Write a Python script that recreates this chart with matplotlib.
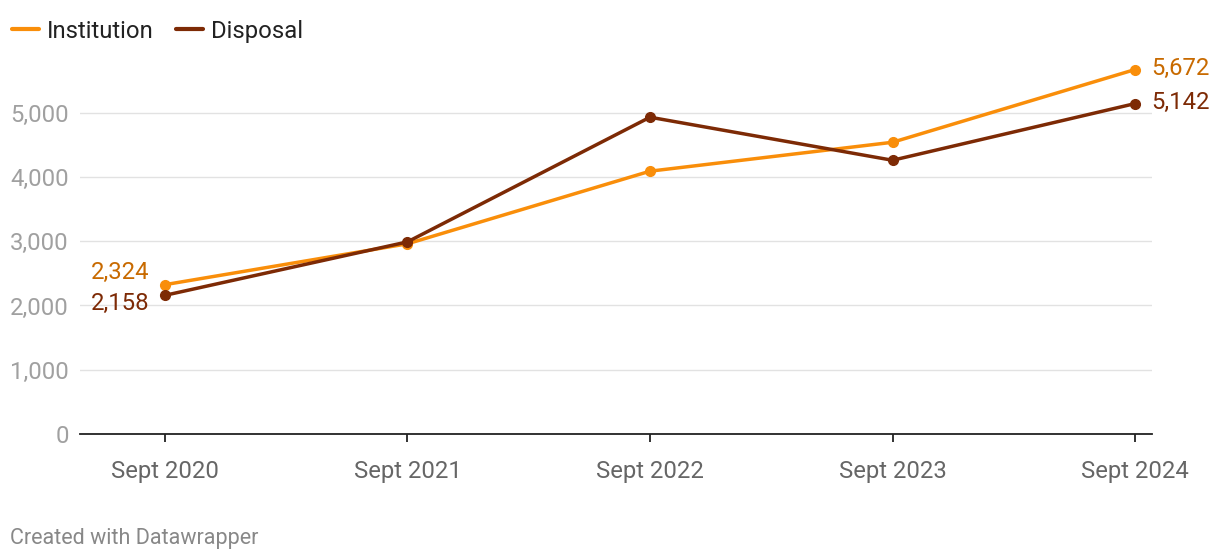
import matplotlib.pyplot as plt
from matplotlib.lines import Line2D

plt.rcParams['font.family'] = ['Roboto', 'DejaVu Sans']

# data
periods = ['Sept 2020', 'Sept 2021', 'Sept 2022', 'Sept 2023', 'Sept 2024']
institution = [2324, 2960, 4090, 4540, 5672]
disposal = [2158, 2990, 4930, 4260, 5142]

c_inst = '#f98e0a'
c_inst_txt = '#c86a00'
c_disp = '#7d2a05'
fs = 17.2

fig = plt.figure(figsize=(12.2, 5.6), dpi=100)
ax = fig.add_axes([0.0656, 0.225, 0.8787, 0.677])

x = list(range(len(periods)))
ax.plot(x, institution, color=c_inst, lw=2.5, marker='o', ms=7, zorder=3)
ax.plot(x, disposal, color=c_disp, lw=2.5, marker='o', ms=7, zorder=4)

ax.set_xlim(-0.35, 4.07)
ax.set_ylim(0, 5900)
ax.set_yticks([0, 1000, 2000, 3000, 4000, 5000])
ax.set_yticklabels(['0', '1,000', '2,000', '3,000', '4,000', '5,000'])
ax.set_xticks(x)
ax.set_xticklabels(periods)

ax.grid(axis='y', color='#e2e2e2', lw=1)
ax.set_axisbelow(True)
for s in ['top', 'right', 'left']:
    ax.spines[s].set_visible(False)
ax.spines['bottom'].set_color('#222222')
ax.spines['bottom'].set_linewidth(1.3)

ax.tick_params(axis='y', length=0, pad=8, labelsize=fs, labelcolor='#a0a0a0')
ax.tick_params(axis='x', length=6, width=1.3, color='#222222', pad=13,
               labelsize=fs, labelcolor='#666666')

# end labels
fmt = lambda v: f'{v:,}'
ax.annotate(fmt(institution[0]), (x[0], institution[0]), xytext=(-11, 9),
            textcoords='offset points', ha='right', va='center',
            fontsize=fs, color=c_inst_txt)
ax.annotate(fmt(disposal[0]), (x[0], disposal[0]), xytext=(-11, -6),
            textcoords='offset points', ha='right', va='center',
            fontsize=fs, color=c_disp)
ax.annotate(fmt(institution[-1]), (x[-1], institution[-1]), xytext=(12, 1),
            textcoords='offset points', ha='left', va='center',
            fontsize=fs, color=c_inst_txt, annotation_clip=False)
ax.annotate(fmt(disposal[-1]), (x[-1], disposal[-1]), xytext=(12, 1),
            textcoords='offset points', ha='left', va='center',
            fontsize=fs, color=c_disp, annotation_clip=False)

handles = [Line2D([], [], color=c_inst, lw=3, solid_capstyle='round'),
           Line2D([], [], color=c_disp, lw=3, solid_capstyle='round')]
fig.legend(handles, ['Institution', 'Disposal'], loc='upper left',
           bbox_to_anchor=(-0.004, 0.995), ncol=2, frameon=False, fontsize=fs,
           handlelength=1.15, handletextpad=0.3, columnspacing=0.95,
           borderaxespad=0.3, labelcolor='#222222')

fig.text(0.008, 0.028, 'Created with Datawrapper', fontsize=15.5, color='#888888')

plt.savefig('out.png', dpi=100)
